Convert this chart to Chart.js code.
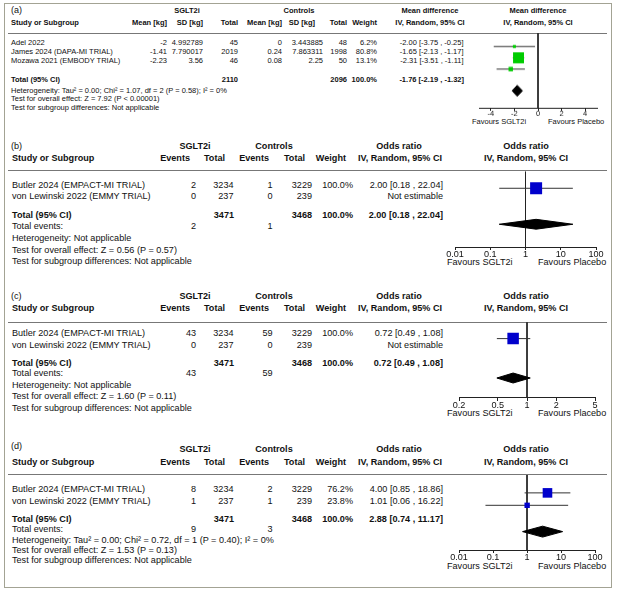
<!DOCTYPE html>
<html><head><meta charset="utf-8">
<script src="https://cdn.jsdelivr.net/npm/chart.js@4.4.1/dist/chart.umd.min.js"></script>
<style>
html,body{margin:0;padding:0;background:#fff;}
#fig{position:relative;width:618px;height:592px;overflow:hidden;font-family:"Liberation Sans",Arial,sans-serif;color:#111;}
.t{position:absolute;white-space:nowrap;}
.frame{position:absolute;left:4px;top:3px;width:608px;height:585px;border:1px solid #a3a394;box-sizing:border-box;}
.sep{position:absolute;left:8px;width:599px;height:0;border-top:1px solid #777;}
canvas{position:absolute;}
</style></head><body><div id="fig"><div class="frame"></div></div>
<script>
// ---------- Panel (a): mean difference in body weight ----------
const studiesA = ["Adel 2022", "James 2024 (DAPA-MI TRIAL)", "Mozawa 2021 (EMBODY TRIAL)"];
const meanSglA = [-2, -1.41, -2.23];
const sdSglA = [4.992789, 7.790017, 3.56];
const nSglA = [45, 2019, 46];
const meanCtlA = [0, 0.24, 0.08];
const sdCtlA = [3.443885, 7.863311, 2.25];
const nCtlA = [48, 1998, 50];
const weightA = [6.2, 80.8, 13.1];
const mdA = [-2.00, -1.65, -2.31];
const mdLoA = [-3.75, -2.13, -3.51];
const mdHiA = [-0.25, -1.17, -1.11];
const pooledA = [-1.76, -2.19, -1.32];
const totalsA = [2110, 2096];
const notesA = ["Heterogeneity: Tau\u00b2 = 0.00; Chi\u00b2 = 1.07, df = 2 (P = 0.58); I\u00b2 = 0%",
  "Test for overall effect: Z = 7.92 (P < 0.00001)", "Test for subgroup differences: Not applicable"];
const xTicksA = [-4, -2, 0, 2, 4];

// ---------- Panels (b)-(d): odds ratios ----------
const studiesOR = ["Butler 2024 (EMPACT-MI TRIAL)", "von Lewinski 2022 (EMMY TRIAL)"];
const nSglOR = [3234, 237];
const nCtlOR = [3229, 239];
const totalsOR = [3471, 3468];
const totalWeight = 100.0;

const eventsSglB = [2, 0], eventsCtlB = [1, 0], totalEventsB = [2, 1];
const weightB = [100.0, null], orB = [2.00, null], orLoB = [0.18, null], orHiB = [22.04, null];
const pooledB = [2.00, 0.18, 22.04];
const notesB = ["Heterogeneity: Not applicable", "Test for overall effect: Z = 0.56 (P = 0.57)", "Test for subgroup differences: Not applicable"];
const xTicksB = [0.01, 0.1, 1, 10, 100];

const eventsSglC = [43, 0], eventsCtlC = [59, 0], totalEventsC = [43, 59];
const weightC = [100.0, null], orC = [0.72, null], orLoC = [0.49, null], orHiC = [1.08, null];
const pooledC = [0.72, 0.49, 1.08];
const notesC = ["Heterogeneity: Not applicable", "Test for overall effect: Z = 1.60 (P = 0.11)", "Test for subgroup differences: Not applicable"];
const xTicksC = [0.2, 0.5, 1, 2, 5];

const eventsSglD = [8, 1], eventsCtlD = [2, 1], totalEventsD = [9, 3];
const weightD = [76.2, 23.8], orD = [4.00, 1.01], orLoD = [0.85, 0.06], orHiD = [18.86, 16.22];
const pooledD = [2.88, 0.74, 11.17];
const notesD = ["Heterogeneity: Tau\u00b2 = 0.00; Chi\u00b2 = 0.72, df = 1 (P = 0.40); I\u00b2 = 0%",
  "Test for overall effect: Z = 1.53 (P = 0.13)", "Test for subgroup differences: Not applicable"];
const xTicksD = [0.01, 0.1, 1, 10, 100];

// ---------- helpers ----------
Chart.defaults.font.family = '"Liberation Sans", Arial, sans-serif';
const fig = document.getElementById('fig');
function txt(s, x, y, o) {
  o = o || {};
  const size = o.size || 9.1;
  const d = document.createElement('div');
  d.className = 't';
  d.textContent = s;
  d.style.fontSize = size + 'px';
  d.style.lineHeight = size + 'px';
  d.style.top = (y - size / 2) + 'px';
  if (o.bold) d.style.fontWeight = 'bold';
  const a = o.align || 'left';
  if (a === 'left') d.style.left = x + 'px';
  else if (a === 'right') d.style.right = (618 - x) + 'px';
  else { d.style.left = x + 'px'; d.style.transform = 'translateX(-50%)'; }
  fig.appendChild(d);
}
function sep(y) {
  const d = document.createElement('div');
  d.className = 'sep';
  d.style.top = (y - 0.5) + 'px';
  fig.appendChild(d);
}
function fmtCI(e, l, h) { return e.toFixed(2) + ' [' + l.toFixed(2) + ' , ' + h.toFixed(2) + ']'; }

function forest(c) {
  const padL = 30, padR = 30, padT = 8, axH = 24;
  const cv = document.createElement('canvas');
  const W = c.right - c.left + padL + padR, H = c.axis - c.top + padT + axH;
  cv.width = W; cv.height = H;
  cv.style.left = (c.left - padL) + 'px'; cv.style.top = (c.top - padT) + 'px';
  cv.style.width = W + 'px'; cv.style.height = H + 'px';
  fig.appendChild(cv);
  const yMin = (c.top - c.row0) / c.rowPx, yMax = (c.axis - c.row0) / c.rowPx;
  const dHalf = c.dPx / c.rowPx;
  const ds = [];
  const sq = [], rad = [];
  c.est.forEach((e, i) => { if (e == null) return; sq.push({x: e, y: i}); rad.push(c.sqFull * Math.sqrt(c.w[i] / 100) / Math.SQRT2); });
  ds.push({data: sq, showLine: false, pointStyle: 'rect', pointRadius: rad, backgroundColor: c.color, borderColor: c.color, borderWidth: 0});
  const [pe, pl, ph] = c.pooled;
  ds.push({data: [{x: pl, y: c.totalRow}, {x: pe, y: c.totalRow - dHalf}, {x: ph, y: c.totalRow}], borderColor: '#000', borderWidth: 1, pointRadius: 0, fill: '+1', backgroundColor: '#000'});
  ds.push({data: [{x: pl, y: c.totalRow}, {x: pe, y: c.totalRow + dHalf}, {x: ph, y: c.totalRow}], borderColor: '#000', borderWidth: 1, pointRadius: 0, fill: false});
  c.est.forEach((e, i) => { if (e == null) return;
    ds.push({data: [{x: c.lo[i], y: i}, {x: c.hi[i], y: i}], borderColor: '#333', borderWidth: 1, pointRadius: 0, fill: false});
  });
  ds.push({data: [{x: c.refX, y: yMin}, {x: c.refX, y: yMax}], borderColor: '#222', borderWidth: 1, pointRadius: 0, fill: false});
  new Chart(cv, {
    type: 'line',
    data: {datasets: ds},
    options: {
      responsive: false, animation: false, devicePixelRatio: 1, events: [],
      layout: {padding: {left: padL, right: padR, top: padT, bottom: 0}},
      plugins: {legend: {display: false}, tooltip: {enabled: false}},
      scales: {
        x: {type: c.xType, min: c.xMin, max: c.xMax, position: 'bottom',
          afterFit: s => { s.height = axH; },
          afterBuildTicks: s => { s.ticks = c.ticks.map(v => ({value: v})); },
          ticks: {autoSkip: false, maxRotation: 0, color: '#111', padding: -0.5,
            font: {size: c.size, lineHeight: 1}, callback: v => String(v)},
          grid: {drawOnChartArea: false, drawTicks: true, tickLength: 3, color: '#222', lineWidth: 1},
          border: {display: true, color: '#222', width: 1}},
        y: {type: 'linear', display: false, min: yMin, max: yMax, reverse: true}
      }
    }
  });
}

// ---------- Panel (a) table ----------
(function () {
  const s = 7.5, N = {size: s}, B = {size: s, bold: true};
  const R = {size: s, align: 'right'}, RB = {size: s, align: 'right', bold: true};
  const CB = {size: s, align: 'center', bold: true};
  txt('(a)', 11, 10.5, {size: 9});
  txt('SGLT2i', 187, 11, CB);
  txt('Controls', 299, 11, CB);
  txt('Mean difference', 430, 11, CB);
  txt('Mean difference', 538, 11, CB);
  const h = 22.7;
  txt('Study or Subgroup', 11, h, B);
  txt('Mean [kg]', 167, h, RB);
  txt('SD [kg]', 203, h, RB);
  txt('Total', 238, h, RB);
  txt('Mean [kg]', 282, h, RB);
  txt('SD [kg]', 315, h, RB);
  txt('Total', 347, h, RB);
  txt('Weight', 377, h, RB);
  txt('IV, Random, 95% CI', 430, h, CB);
  txt('IV, Random, 95% CI', 538, h, CB);
  sep(33.3);
  const rows = [43, 52, 60.7];
  studiesA.forEach((st, i) => {
    const y = rows[i];
    txt(st, 11, y, N);
    txt(String(meanSglA[i]), 167, y, R);
    txt(String(sdSglA[i]), 203, y, R);
    txt(String(nSglA[i]), 238, y, R);
    txt(String(meanCtlA[i]), 282, y, R);
    txt(String(sdCtlA[i]), 323, y, R);
    txt(String(nCtlA[i]), 347, y, R);
    txt(weightA[i].toFixed(1) + '%', 377, y, R);
    txt(fmtCI(mdA[i], mdLoA[i], mdHiA[i]), 463.5, y, R);
  });
  const ty = 79.5;
  txt('Total (95% CI)', 11, ty, B);
  txt(String(totalsA[0]), 238, ty, RB);
  txt(String(totalsA[1]), 347, ty, RB);
  txt(totalWeight.toFixed(1) + '%', 377, ty, RB);
  txt(fmtCI(pooledA[0], pooledA[1], pooledA[2]), 464, ty, RB);
  [90.5, 99.2, 107.8].forEach((y, i) => txt(notesA[i], 11, y, N));
  txt('Favours SGLT2i', 472, 122, N);
  txt('Favours Placebo', 548, 122, N);
  forest({left: 479, right: 597, top: 33.3, axis: 108, row0: 46.7, rowPx: 11.3, totalRow: 3.92, dPx: 5.5,
    xType: 'linear', xMin: -5, xMax: 5, ticks: xTicksA, refX: 0, size: s,
    est: mdA, lo: mdLoA, hi: mdHiA, w: weightA, pooled: pooledA, color: '#00cc00', sqFull: 12.2});
})();

// ---------- Panels (b)-(d) tables ----------
function orPanel(tag, Y, ev1, ev2, totEv, w, est, lo, hi, pooled, notes) {
  const s = 9.1, N = {size: s}, B = {size: s, bold: true};
  const R = {size: s, align: 'right'}, RB = {size: s, align: 'right', bold: true};
  const CB = {size: s, align: 'center', bold: true};
  txt(tag, 11, Y.tag, N);
  txt('SGLT2i', 195, Y.h1, CB);
  txt('Controls', 274, Y.h1, CB);
  txt('Odds ratio', 399, Y.h1, CB);
  txt('Odds ratio', 526, Y.h1, CB);
  txt('Study or Subgroup', 12, Y.h2, B);
  txt('Events', 190, Y.h2, RB);
  txt('Total', 225, Y.h2, RB);
  txt('Events', 269, Y.h2, RB);
  txt('Total', 305, Y.h2, RB);
  txt('Weight', 346, Y.h2, RB);
  txt('IV, Random, 95% CI', 400, Y.h2, CB);
  txt('IV, Random, 95% CI', 526, Y.h2, CB);
  sep(Y.sep);
  studiesOR.forEach((st, i) => {
    const y = Y.r[i];
    txt(st, 12, y, N);
    txt(String(ev1[i]), 196, y, R);
    txt(String(nSglOR[i]), 233.5, y, R);
    txt(String(ev2[i]), 272.5, y, R);
    txt(String(nCtlOR[i]), 312, y, R);
    if (w[i] != null) txt(w[i].toFixed(1) + '%', 353, y, R);
    txt(est[i] != null ? fmtCI(est[i], lo[i], hi[i]) : 'Not estimable', 443, y, R);
  });
  txt('Total (95% CI)', 12, Y.tot, B);
  txt(String(totalsOR[0]), 234, Y.tot, RB);
  txt(String(totalsOR[1]), 312, Y.tot, RB);
  txt(totalWeight.toFixed(1) + '%', 353, Y.tot, RB);
  txt(fmtCI(pooled[0], pooled[1], pooled[2]), 443, Y.tot, RB);
  txt('Total events:', 12, Y.ev, N);
  txt(String(totEv[0]), 196, Y.ev, R);
  txt(String(totEv[1]), 272.5, Y.ev, R);
  notes.forEach((n, i) => txt(n, 12, Y.n[i], N));
  txt('Favours SGLT2i', 447, Y.fav, N);
  txt('Favours Placebo', 538, Y.fav, N);
}

orPanel('(b)', {tag: 147, h1: 147, h2: 159, sep: 170.5, r: [186, 197], tot: 216, ev: 227, n: [239, 250.5, 262], fav: 263},
  eventsSglB, eventsCtlB, totalEventsB, weightB, orB, orLoB, orHiB, pooledB, notesB);
forest({left: 455, right: 596, top: 170.5, axis: 247, row0: 187.5, rowPx: 11.5, totalRow: 3.17, dPx: 5,
  xType: 'logarithmic', xMin: 0.01, xMax: 100, ticks: xTicksB, refX: 1, size: 9.1,
  est: orB, lo: orLoB, hi: orHiB, w: weightB, pooled: pooledB, color: '#0000cc', sqFull: 12});

orPanel('(c)', {tag: 296.5, h1: 296.5, h2: 309, sep: 322, r: [333.5, 346], tot: 363.5, ev: 374, n: [386, 397, 409], fav: 414},
  eventsSglC, eventsCtlC, totalEventsC, weightC, orC, orLoC, orHiC, pooledC, notesC);
forest({left: 459, right: 595, top: 322, axis: 398, row0: 338.5, rowPx: 12, totalRow: 3.29, dPx: 5,
  xType: 'logarithmic', xMin: 0.2, xMax: 5, ticks: xTicksC, refX: 1, size: 9.1,
  est: orC, lo: orLoC, hi: orHiC, w: weightC, pooled: pooledC, color: '#0000cc', sqFull: 11.5});

orPanel('(d)', {tag: 447, h1: 450, h2: 463, sep: 474.5, r: [490, 502], tot: 519.5, ev: 529.5, n: [540.5, 550.5, 561], fav: 567},
  eventsSglD, eventsCtlD, totalEventsD, weightD, orD, orLoD, orHiD, pooledD, notesD);
forest({left: 459, right: 595, top: 474.5, axis: 550, row0: 492.5, rowPx: 12.5, totalRow: 3.12, dPx: 5.5,
  xType: 'logarithmic', xMin: 0.01, xMax: 100, ticks: xTicksD, refX: 1, size: 9.1,
  est: orD, lo: orLoD, hi: orHiD, w: weightD, pooled: pooledD, color: '#0000cc', sqFull: 11});
</script></body></html>
